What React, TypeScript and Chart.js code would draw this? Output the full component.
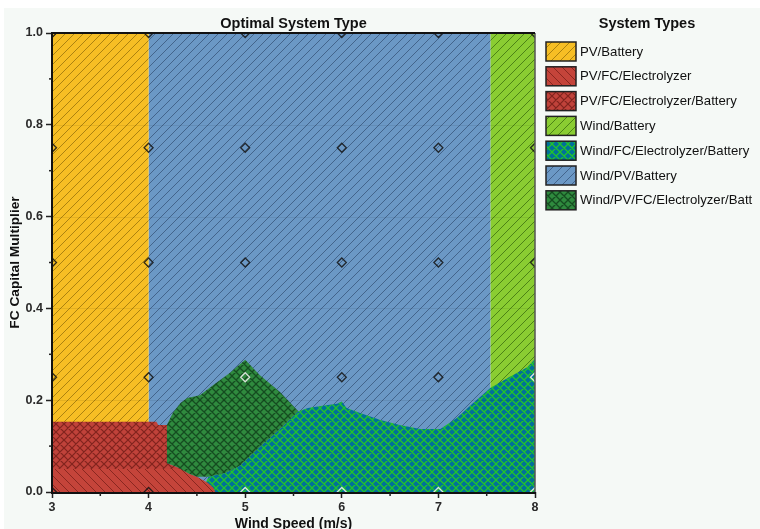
import React, { useEffect, useRef } from 'react';
import { Chart, registerables } from 'chart.js';

Chart.register(...registerables);

// ---- data ----
const xTicks = [3, 4, 5, 6, 7, 8];
const yTicks = [0, 0.2, 0.4, 0.6, 0.8, 1.0];
const xMinorTicks = [3.5, 4.5, 5.5, 6.5, 7.5];
const yMinorTicks = [0.1, 0.3, 0.5, 0.7, 0.9];

const systemTypes = [
  'PV/Battery',
  'PV/FC/Electrolyzer',
  'PV/FC/Electrolyzer/Battery',
  'Wind/Battery',
  'Wind/FC/Electrolyzer/Battery',
  'Wind/PV/Battery',
  'Wind/PV/FC/Electrolyzer/Batt',
];

// region outlines: [wind speed (m/s), FC capital multiplier]
const pvBatteryRegion = [[3, 0], [3, 1], [4, 1], [4, 0]];
const pvFcElecRegion = [
  [3, 0], [3, 0.05], [4.34, 0.05], [4.41, 0.041], [4.5, 0.033], [4.56, 0.026],
  [4.61, 0.02], [4.67, 0.009], [4.69, 0],
];
const pvFcElecBattRegion = [
  [3, 0.05], [3, 0.153], [4.08, 0.153], [4.1, 0.146], [4.19, 0.146],
  [4.19, 0.063], [4.3, 0.054], [4.34, 0.05],
];
const windBatteryRegion = [[7.54, 0], [7.54, 1], [8, 1], [8, 0]];
const windFcElecBattRegion = [
  [4.55, 0], [4.62, 0.033], [4.8, 0.042], [4.95, 0.058], [5.15, 0.098], [5.36, 0.137],
  [5.55, 0.176], [5.65, 0.183], [5.8, 0.188], [5.95, 0.192], [6.0, 0.197], [6.05, 0.183],
  [6.19, 0.172], [6.4, 0.157], [6.6, 0.146], [6.81, 0.137], [7.02, 0.137], [7.19, 0.161],
  [7.36, 0.194], [7.54, 0.227], [7.74, 0.251], [7.92, 0.272], [8, 0.29], [8, 0],
];
const windPvBatteryRegion = [[4, 0], [4, 1], [7.54, 1], [7.54, 0]];
const windPvFcElecBattRegion = [
  [4.19, 0.146], [4.19, 0.063], [4.3, 0.054], [4.41, 0.041], [4.5, 0.033], [4.62, 0.033],
  [4.8, 0.042], [4.95, 0.058], [5.15, 0.098], [5.36, 0.137], [5.55, 0.176], [5.36, 0.218],
  [5.15, 0.255], [5.0, 0.288], [4.84, 0.259], [4.67, 0.233], [4.53, 0.211], [4.4, 0.205],
  [4.33, 0.194], [4.25, 0.172],
];

// sampled design points
const sampleWind = [3, 4, 5, 6, 7, 8];
const sampleMultiplier = [0, 0.25, 0.5, 0.75, 1];
const lightSamples = [[5, 0], [5, 0.25], [6, 0], [7, 0], [8, 0], [8, 0.25]];

const FONT = "'Liberation Sans', Arial, sans-serif";

type Kind = 'fwd' | 'back' | 'cross';

function makePattern(bg: string, line: string, kind: Kind, size: number, lw: number): CanvasPattern | string {
  const c = document.createElement('canvas');
  c.width = size;
  c.height = size;
  const g = c.getContext('2d');
  if (!g) return bg;
  g.fillStyle = bg;
  g.fillRect(0, 0, size, size);
  g.strokeStyle = line;
  g.lineWidth = lw;
  g.beginPath();
  for (let k = -1; k <= 1; k++) {
    if (kind !== 'back') {
      g.moveTo(k * size, size);
      g.lineTo(k * size + size, 0);
    }
    if (kind !== 'fwd') {
      g.moveTo(k * size, 0);
      g.lineTo(k * size + size, size);
    }
  }
  g.stroke();
  const p = g.createPattern(c, 'repeat');
  return p || bg;
}

const toPts = (arr: number[][]) => arr.map(([x, y]) => ({ x, y }));

export default function App() {
  const ref = useRef<HTMLCanvasElement | null>(null);

  useEffect(() => {
    const canvas = ref.current;
    if (!canvas) return;

    const fills = [
      makePattern('#f6be24', 'rgba(110,80,0,0.55)', 'fwd', 9, 1),
      makePattern('#c4443a', 'rgba(100,20,15,0.6)', 'back', 9, 1),
      makePattern('#c0423a', 'rgba(95,20,15,0.65)', 'cross', 8, 1.2),
      makePattern('#8acd32', 'rgba(50,100,10,0.7)', 'fwd', 9, 1),
      makePattern('#00709a', '#22c42a', 'cross', 8, 1.3),
      makePattern('#6b98c5', 'rgba(40,65,100,0.6)', 'fwd', 9, 1),
      makePattern('#2f8a3e', 'rgba(15,60,25,0.8)', 'cross', 8, 1.3),
    ];
    const regions = [
      pvBatteryRegion,
      pvFcElecRegion,
      pvFcElecBattRegion,
      windBatteryRegion,
      windFcElecBattRegion,
      windPvBatteryRegion,
      windPvFcElecBattRegion,
    ];
    // drawing order (higher drawn first)
    const orders = [6, 3, 2, 5, 4, 7, 1];

    const regionSets = regions.map((r, i) => ({
      type: 'line' as const,
      label: systemTypes[i],
      data: toPts(r),
      fill: 'shape' as const,
      backgroundColor: fills[i] as any,
      borderColor: 'rgba(0,0,0,0)',
      borderWidth: 0,
      pointRadius: 0,
      tension: 0,
      order: orders[i],
    }));

    const markerPts: { x: number; y: number }[] = [];
    const markerCols: string[] = [];
    sampleWind.forEach((x) => {
      sampleMultiplier.forEach((y) => {
        markerPts.push({ x, y });
        const light = lightSamples.some(([lx, ly]) => lx === x && ly === y);
        markerCols.push(light ? 'rgba(235,240,235,0.9)' : 'rgba(20,20,20,0.85)');
      });
    });

    const markerSet = {
      type: 'line' as const,
      label: 'samples',
      data: markerPts,
      showLine: false,
      pointStyle: 'rectRot' as const,
      pointRadius: 4.5,
      pointBorderWidth: 1.3,
      pointBorderColor: markerCols,
      pointBackgroundColor: 'rgba(0,0,0,0)',
      clip: 0,
      order: 0,
    };

    const decor = {
      id: 'decor',
      beforeDraw(chart: any) {
        const ctx = chart.ctx;
        ctx.save();
        ctx.fillStyle = '#ffffff';
        ctx.fillRect(0, 0, chart.width, chart.height);
        ctx.fillStyle = '#f5f9f6';
        ctx.fillRect(4, 8, chart.width - 4, chart.height - 8);
        ctx.restore();
      },
      afterDatasetsDraw(chart: any) {
        const ctx = chart.ctx;
        const { left, right, top, bottom } = chart.chartArea;
        const xs = chart.scales.x;
        const ys = chart.scales.y;
        ctx.save();
        // faint horizontal grid
        ctx.strokeStyle = 'rgba(0,0,0,0.07)';
        ctx.lineWidth = 1;
        [0.2, 0.4, 0.6, 0.8].forEach((v) => {
          const py = Math.round(ys.getPixelForValue(v)) + 0.5;
          ctx.beginPath();
          ctx.moveTo(left, py);
          ctx.lineTo(right, py);
          ctx.stroke();
        });
        // frame
        ctx.strokeStyle = '#555';
        ctx.lineWidth = 1.5;
        ctx.beginPath();
        ctx.moveTo(right, top);
        ctx.lineTo(right, bottom);
        ctx.stroke();
        ctx.strokeStyle = '#111';
        ctx.lineWidth = 2;
        ctx.beginPath();
        ctx.moveTo(left - 1, top);
        ctx.lineTo(right, top);
        ctx.stroke();
        ctx.beginPath();
        ctx.moveTo(left, top);
        ctx.lineTo(left, bottom + 1);
        ctx.lineTo(right + 1, bottom + 1);
        ctx.stroke();
        // minor ticks
        ctx.lineWidth = 1.5;
        ctx.strokeStyle = '#222';
        xMinorTicks.forEach((v) => {
          const px = xs.getPixelForValue(v);
          ctx.beginPath();
          ctx.moveTo(px, bottom + 1);
          ctx.lineTo(px, bottom + 4);
          ctx.stroke();
        });
        yMinorTicks.forEach((v) => {
          const py = ys.getPixelForValue(v);
          ctx.beginPath();
          ctx.moveTo(left, py);
          ctx.lineTo(left - 3, py);
          ctx.stroke();
        });
        ctx.restore();
      },
      afterDraw(chart: any) {
        const ctx = chart.ctx;
        const { left, right } = chart.chartArea;
        ctx.save();
        // title
        ctx.fillStyle = '#111';
        ctx.font = `bold 14.5px ${FONT}`;
        ctx.textAlign = 'center';
        ctx.textBaseline = 'middle';
        ctx.fillText('Optimal System Type', (left + right) / 2, 23.5);
        // legend
        ctx.fillText('System Types', 647, 24);
        ctx.textAlign = 'left';
        ctx.font = `13.2px ${FONT}`;
        systemTypes.forEach((label, i) => {
          const y0 = 42 + i * 24.8;
          ctx.fillStyle = fills[i] as any;
          ctx.fillRect(546, y0, 30, 19);
          ctx.strokeStyle = '#222';
          ctx.lineWidth = 1.5;
          ctx.strokeRect(546, y0, 30, 19);
          ctx.fillStyle = '#111';
          ctx.fillText(label, 580, y0 + 10);
        });
        ctx.restore();
      },
    };

    const chart = new Chart(canvas, {
      type: 'line',
      data: { datasets: [...regionSets, markerSet] as any },
      options: {
        responsive: false,
        animation: false,
        devicePixelRatio: 1,
        events: [],
        layout: { padding: { left: 0, top: 33, right: 225, bottom: 0 } },
        plugins: {
          legend: { display: false },
          tooltip: { enabled: false },
          title: { display: false },
        },
        scales: {
          x: {
            type: 'linear',
            min: 3,
            max: 8,
            afterFit: (s: any) => {
              s.height = 37;
            },
            afterBuildTicks: (s: any) => {
              s.ticks = xTicks.map((v) => ({ value: v }));
            },
            ticks: {
              autoSkip: false,
              maxRotation: 0,
              padding: 2,
              color: '#2a2a2a',
              font: { family: FONT, size: 12.5, weight: 'bold' },
              callback: (v: any) => String(v),
            },
            grid: {
              drawOnChartArea: false,
              drawTicks: true,
              tickLength: 6,
              tickColor: '#222',
              tickWidth: 1.5,
            },
            border: { display: false },
            title: {
              display: true,
              text: 'Wind Speed (m/s)',
              color: '#111',
              font: { family: FONT, size: 14, weight: 'bold' },
              padding: { top: 0, bottom: -4 },
            },
          },
          y: {
            type: 'linear',
            min: 0,
            max: 1,
            afterFit: (s: any) => {
              s.width = 52;
            },
            afterBuildTicks: (s: any) => {
              s.ticks = yTicks.map((v) => ({ value: v }));
            },
            ticks: {
              autoSkip: false,
              padding: 3,
              color: '#2a2a2a',
              font: { family: FONT, size: 12.5, weight: 'bold' },
              callback: (v: any) => Number(v).toFixed(1),
            },
            grid: {
              drawOnChartArea: false,
              drawTicks: true,
              tickLength: 6,
              tickColor: '#222',
              tickWidth: 1.5,
            },
            border: { display: false },
            title: {
              display: true,
              text: 'FC Capital Multiplier',
              color: '#111',
              font: { family: FONT, size: 13.7, weight: 'bold' },
              padding: { top: 7, bottom: 0 },
            },
          },
        },
      } as any,
      plugins: [decor],
    });

    return () => chart.destroy();
  }, []);

  return (
    <div style={{ position: 'fixed', left: 0, top: 0, width: 760, height: 529, overflow: 'hidden' }}>
      <canvas ref={ref} width={760} height={529} style={{ display: 'block', width: 760, height: 529 }} />
    </div>
  );
}
